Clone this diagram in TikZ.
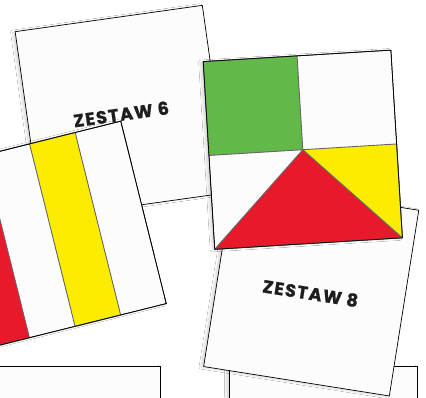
\documentclass[tikz,border=0pt]{standalone}
\usepackage{fontspec}
\newfontfamily\zfont[LetterSpace=7, BoldFeatures={FakeBold=0.8}]{Poppins}
\usetikzlibrary{shadows.blur}
\definecolor{cardfill}{HTML}{FCFCFC}
\definecolor{cgreen}{HTML}{62B848}
\definecolor{cred}{HTML}{E8192A}
\definecolor{cyellow}{HTML}{FBEC00}
\definecolor{ctext}{HTML}{1E1E1E}
\tikzset{
  card/.style={fill=cardfill, draw=black, line width=0.7pt,
    blur shadow={shadow xshift=-2.5pt, shadow yshift=-0.5pt, shadow blur radius=2pt, shadow opacity=15, shadow blur steps=10}},
  outline/.style={draw=black, line width=0.7pt},
  part/.style={draw=black!60, line width=0.9pt, line join=round},
  label/.style={font=\zfont\bfseries\fontsize{17.8}{18}\selectfont, text=ctext, inner sep=0pt, transform shape}
}
\newcommand{\sq}{(-94,-94) -- (94,-94) -- (94,94) -- (-94,94) -- cycle}
\begin{document}
\begin{tikzpicture}[x=1pt,y=-1pt]
\useasboundingbox (0,0) rectangle (426,397);
\fill[white] (0,0) rectangle (426,397);
\clip (0,0) rectangle (426,397);
% bottom-left card
\begin{scope}[shift={(66,460.7)}]
  \path[card] \sq;
\end{scope}
% bottom-right card
\begin{scope}[shift={(323,460.7)}]
  \path[card] \sq;
\end{scope}
% ZESTAW 6 card
\begin{scope}[shift={(121.9,112.1)}, rotate=8]
  \path[card] (-94.5,-94.5) -- (94.5,-94.5) -- (94.5,94.5) -- (-94.5,94.5) -- cycle;
  \node[label] (z6) at (-1,2) {ZESTAW 6};
\end{scope}
% stripes card
\begin{scope}[shift={(52.3,235.1)}, rotate=14]
  \path[card] \sq;
  \path[part, fill=cred] (-94,-94) -- (-47,-94) -- (-47,94) -- (-94,94) -- cycle;
  \path[part, fill=cyellow] (0,-94) -- (47,-94) -- (47,94) -- (0,94) -- cycle;
  \path[outline] \sq;
\end{scope}
% ZESTAW 8 card
\begin{scope}[shift={(311.2,288.4)}, rotate=-9]
  \path[card] \sq;
  \node[label] (z8) at (0,5) {ZESTAW 8};
\end{scope}
% green/red/yellow card
\begin{scope}[shift={(302.8,149.7)}, rotate=3.5]
  \path[card] \sq;
  \path[part, fill=cgreen] (-94,-94) -- (0,-94) -- (0,0) -- (-94,0) -- cycle;
  \path[part, fill=cred] (0,0) -- (94,94) -- (-94,94) -- cycle;
  \path[part, fill=cyellow] (0,0) -- (94,0) -- (94,94) -- cycle;
  \path[outline] \sq;
\end{scope}
\end{tikzpicture}
\end{document}
